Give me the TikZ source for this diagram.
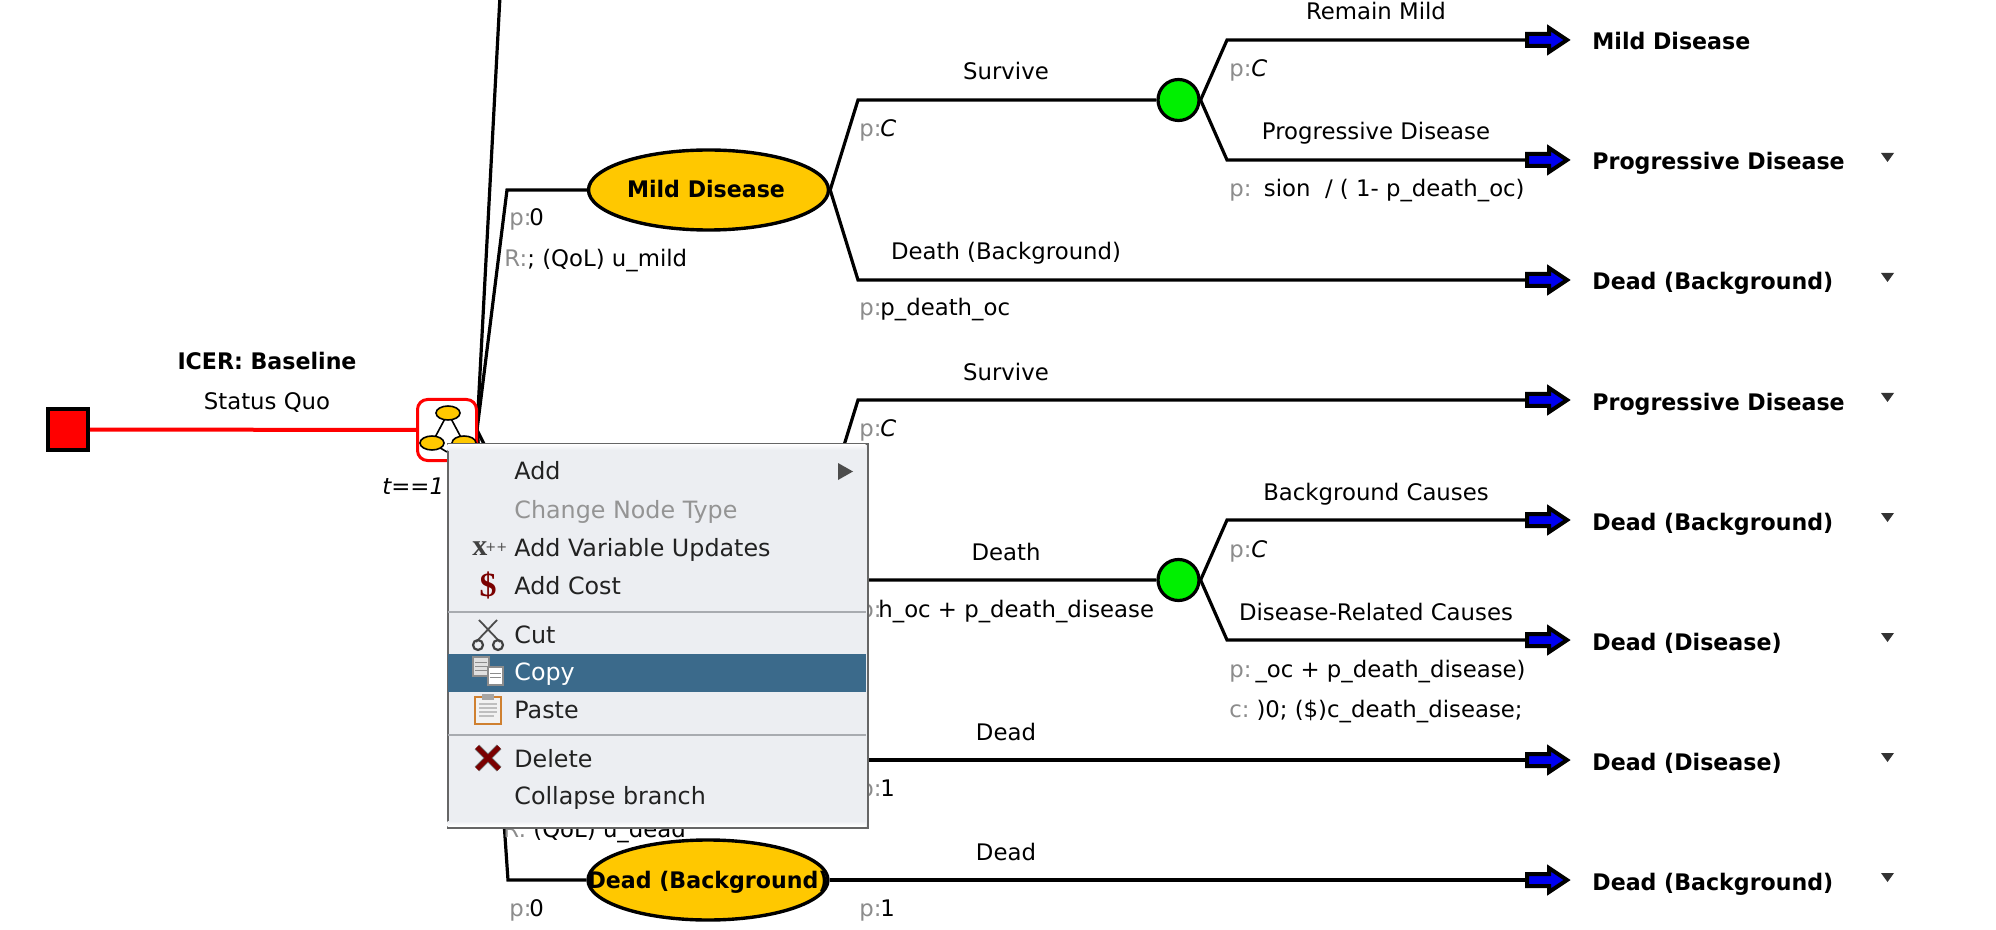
\documentclass[tikz,border=0pt]{standalone}
\usepackage{fontspec}
\usetikzlibrary{shapes.geometric}
\setmainfont{DejaVu Sans}
\newfontfamily\treefont{DejaVu Sans}
\newfontfamily\treeit{DejaVu Sans Oblique}
\newfontfamily\treebold[FakeStretch=0.97]{DejaVu Sans Bold}
\newfontfamily\serifbold{Liberation Serif Bold}
\definecolor{yel}{HTML}{FFC800}
\definecolor{grn}{HTML}{00F000}
\definecolor{blu}{HTML}{0000F0}
\definecolor{mbg}{HTML}{ECEEF2}
\definecolor{msel}{HTML}{3B6A8B}
\definecolor{mtx}{HTML}{222222}
\definecolor{mline}{HTML}{A8ABB0}
\definecolor{delred}{HTML}{7A0000}
\tikzset{
 x=0.5pt,y=-0.5pt,
 branch/.style={line width=1.6pt,black,line join=miter},
 lbl/.style={font=\treefont\fontsize{11.4}{13}\selectfont,inner sep=0pt,anchor=base},
 lblw/.style={lbl,anchor=base west},
 gry/.style={lblw,text=black!45},
 itl/.style={lblw,font=\treeit\fontsize{11.4}{13}\selectfont},
 bld/.style={font=\treebold\fontsize{11.4}{13}\selectfont,inner sep=0pt,anchor=base west},
 chance/.style={circle,draw=black,line width=1.6pt,fill=grn,minimum size=20.5pt,inner sep=0pt},
 markov/.style={ellipse,draw=black,line width=1.7pt,fill=yel,minimum width=120pt,minimum height=40pt,inner sep=0pt},
 endarrow/.pic={\draw[line width=2pt,black,fill=blu,line join=miter,miter limit=6]
   (-43,-6)--(-21,-6)--(-21,-12)--(-3,0)--(-21,12)--(-21,6)--(-43,6)--cycle;},
 tri/.style={fill=black!80},
 mitem/.style={font=\fontsize{11.9}{13}\selectfont,inner sep=0pt,anchor=base west,text=mtx},
}
\begin{document}
\begin{tikzpicture}
\useasboundingbox (0,0) rectangle (1996,930);
\fill[white] (0,0) rectangle (1996,930);
% coordinates
\coordinate (top) at (500,-4);
\coordinate (a1) at (507,190);
\coordinate (a3) at (507,490);
\coordinate (a4) at (507,760);
\coordinate (a2) at (508,880);
\coordinate (b1) at (858,100);
\coordinate (b2) at (858,280);
\coordinate (b3) at (858,400);
\coordinate (b4) at (858,580);
\coordinate (c1) at (1227,40);
\coordinate (c2) at (1227,160);
\coordinate (c3) at (1227,520);
\coordinate (c4) at (1227,640);
\coordinate (e1) at (1540,40);
\coordinate (e2) at (1540,160);
\coordinate (e3) at (1540,280);
\coordinate (e4) at (1540,400);
\coordinate (e5) at (1540,520);
\coordinate (e6) at (1540,640);
\coordinate (e7) at (1540,760);
\coordinate (e8) at (1540,880);
% nodes
\node[draw=black,line width=2pt,fill=red,minimum size=20pt,inner sep=0pt] (root) at (68,429.5) {};
\node[markov] (mild) at (708.5,190) {};
\node[markov] (prog) at (708.5,490) {};
\node[markov] (ddis) at (708.5,760) {};
\node[markov] (dbg) at (708,880) {};
\node[bld,anchor=base] (mildt) at (706,198) {Mild Disease};
\node[bld,anchor=base] (dbgt) at (708,888) {Dead (Background)};
\node[chance] (ch1) at (1178.5,100) {};
\node[chance] (ch2) at (1178.5,580) {};
\coordinate (mkE) at (477,430);
% connectors
\draw[red,line width=2pt] (root.east) -- (417,430);
\draw[branch] (mkE) -- (top);
\draw[branch] (mkE) -- (a1) -- (mild.west);
\draw[branch] (mkE) -- (a3) -- (prog.west);
\draw[branch] (mkE) -- (a4) -- (ddis.west);
\draw[branch] (mkE) -- (a2) -- (dbg.west);
\node[draw=red,line width=1.5pt,rounded corners=5pt,minimum width=29.5pt,minimum height=30.5pt,inner sep=0pt] (mk) at (447,430) {};
\draw[branch] (mild.east) -- (b1) -- (ch1.west);
\draw[branch] (mild.east) -- (b2) -- (e3);
\draw[branch] (prog.east) -- (b3) -- (e4);
\draw[branch] (prog.east) -- (b4) -- (ch2.west);
\draw[branch] (ch1.east) -- (c1) -- (e1);
\draw[branch] (ch1.east) -- (c2) -- (e2);
\draw[branch] (ch2.east) -- (c3) -- (e5);
\draw[branch] (ch2.east) -- (c4) -- (e6);
\draw[branch] (ddis.east) -- (e7);
\draw[branch] (dbg.east) -- (e8);
% terminal arrows
\foreach \r in {40,160,280,400,520,640,760,880}{\pic at (1570,\r) {endarrow};}
\foreach \r in {160,280,400,520,640,760,880}{\fill[tri] (1881,\r-7) -- (1894,\r-7) -- (1887.5,\r+2) -- cycle;}
% mini tree in markov node
\draw[line width=0.8pt] (448,413) -- (432,443) (448,413) -- (464,443) (432,443) -- (447,452);
\foreach \p/\q in {448/413,432/443,464/443}{\draw[fill=yel,line width=0.8pt] (\p,\q) ellipse (12 and 7);}
% end labels
\node[bld] (t1) at (1592,50) {Mild Disease};
\node[bld] (t2) at (1592,170) {Progressive Disease};
\node[bld] (t3) at (1592,290) {Dead (Background)};
\node[bld] (t4) at (1592,410) {Progressive Disease};
\node[bld] (t5) at (1592,530) {Dead (Background)};
\node[bld] (t6) at (1592,650) {Dead (Disease)};
\node[bld] (t7) at (1592,770) {Dead (Disease)};
\node[bld] (t8) at (1592,890) {Dead (Background)};
% branch labels
\node[bld,anchor=base] (icer) at (267,370) {ICER: Baseline};
\node[lbl] (sq) at (267,409) {Status Quo};
\node[itl] (tt) at (382,494) {t==1};
\node[lbl] (l1) at (1006,80) {Survive};
\node[lbl] (l2) at (1006,260) {Death (Background)};
\node[lbl] (l3) at (1006,380) {Survive};
\node[lbl] (l4) at (1006,560) {Death};
\node[lbl] (l5) at (1006,740) {Dead};
\node[lbl] (l6) at (1006,860) {Dead};
\node[lbl] (l7) at (1376,20) {Remain Mild};
\node[lbl] (l8) at (1376,140) {Progressive Disease};
\node[lbl] (l9) at (1376,500) {Background Causes};
\node[lbl] (l10) at (1376,620) {Disease-Related Causes};
% probabilities
\node[gry] (p1) at (509,226) {p:};   \node[lblw] (p1v) at (529,226) {0};
\node[gry] (r1) at (504,267) {R:};   \node[lblw] (r1v) at (527,267) {; (QoL) u\_mild};
\node[gry] (p2) at (859,137) {p:};   \node[itl] (p2v) at (880,137) {C};
\node[gry] (p3) at (859,316) {p:};   \node[lblw] (p3v) at (880,316) {p\_death\_oc};
\node[gry] (p4) at (859,437) {p:};   \node[itl] (p4v) at (880,437) {C};
\node[gry] (p5) at (859,617) {p:};   \node[lblw] (p5v) at (878,617) {h\_oc + p\_death\_disease};
\node[gry] (p6) at (859,796) {p:};   \node[lblw] (p6v) at (880,796) {1};
\node[gry] (p7) at (859,916) {p:};   \node[lblw] (p7v) at (880,916) {1};
\node[gry] (p8) at (509,916) {p:};   \node[lblw] (p8v) at (529,916) {0};
\node[gry] (r2) at (503,837) {R:};   \node[lblw] (r2v) at (533,837) {(QoL) u\_dead};
\node[gry] (p9) at (1229,77) {p:};   \node[itl] (p9v) at (1251,77) {C};
\node[gry] (p10) at (1229,197) {p:}; \node[lblw,anchor=base east] (p10v) at (1525,197) {sion\ \ / ( 1- p\_death\_oc)};
\node[gry] (p11) at (1229,557) {p:}; \node[itl] (p11v) at (1251,557) {C};
\node[gry] (p12) at (1229,677) {p:}; \node[lblw,anchor=base east] (p12v) at (1526,677) {\_oc + p\_death\_disease)};
\node[gry] (c12) at (1229,717) {c:}; \node[lblw,anchor=base east] (c12v) at (1523,717) {)0; (\$)c\_death\_disease;};
% popup menu
\node[draw=black!60,line width=1pt,fill=mbg,minimum width=210pt,minimum height=192pt,inner sep=0pt,anchor=north west] (menu) at (446.5,442.5) {};
\shade[top color=white,bottom color=mbg] (447.5,444) rectangle (865.5,450);
\shade[top color=mbg,bottom color=white] (447.5,821) rectangle (865.5,826);
\fill[msel] (447.5,654) rectangle (865.5,692);
\draw[mline,line width=1pt] (447.5,612) -- (865.5,612) (447.5,735) -- (865.5,735);
\node[mitem] (m1) at (514,480) {Add};
\node[mitem,text=black!42] (m2) at (514,518) {Change Node Type};
\node[mitem] (m3) at (514,556) {Add Variable Updates};
\node[mitem] (m4) at (514,594) {Add Cost};
\node[mitem] (m5) at (514,643) {Cut};
\node[mitem,text=white] (m6) at (514,680) {Copy};
\node[mitem] (m7) at (514,718) {Paste};
\node[mitem] (m8) at (514,767) {Delete};
\node[mitem] (m9) at (514,804) {Collapse branch};
\fill[black!70] (838,463) -- (853,471.5) -- (838,480) -- cycle;
% icons
\node[inner sep=0pt,anchor=base west,font=\serifbold\fontsize{15}{15}\selectfont,text=black!75] (ix) at (472,555) {x};
\node[inner sep=0pt,anchor=base west,font=\fontsize{6.5}{7}\selectfont,text=black!70] (ipp) at (485,551) {++};
\node[inner sep=0pt,font=\serifbold\fontsize{17}{17}\selectfont,text=delred] (idol) at (488,585) {\$};
% scissors
\draw[black!70,line width=0.9pt] (476,642) -- (497,620) (500,642) -- (479,620);
\draw[black!75,line width=1.1pt] (478,645) circle (5) (498,645) circle (5);
% copy
\draw[black!45,fill=black!12,line width=0.7pt] (473,657) rectangle (489,676);
\draw[black!45,fill=white,line width=0.7pt] (488,667) rectangle (503,685);
\draw[black!45,line width=0.5pt] (475,662)--(487,662) (475,666)--(487,666) (475,670)--(487,670) (490,673)--(501,673) (490,677)--(501,677);
% paste
\draw[brown!75!orange,fill=black!5,line width=1.2pt] (475,697) rectangle (501,724);
\fill[black!35] (482,694) rectangle (494,700);
\draw[black!25,line width=0.7pt] (479,704)--(497,704) (479,708)--(497,708) (479,712)--(497,712) (479,716)--(494,716);
% delete
\draw[black!55,line width=3.2pt] (477,747) -- (499,769) (499,747) -- (477,769);
\draw[delred,line width=2.4pt] (477,747) -- (499,769) (499,747) -- (477,769);
\end{tikzpicture}
\end{document}
